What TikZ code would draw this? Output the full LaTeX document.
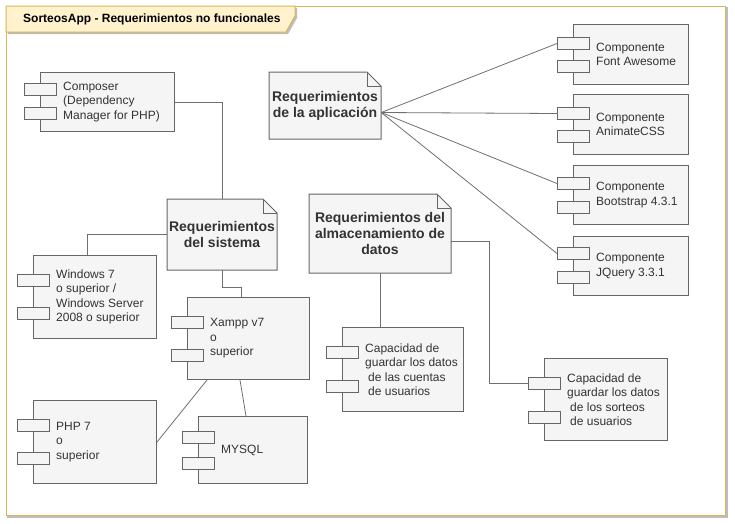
\documentclass[tikz,border=0pt]{standalone}
\usepackage{fontspec}
\setmainfont{Liberation Sans}
\usetikzlibrary{calc}
\definecolor{compfill}{HTML}{F5F5F5}
\definecolor{compline}{HTML}{666666}
\definecolor{txt}{HTML}{333333}
\definecolor{gold}{HTML}{D6B656}
\definecolor{tabfill}{HTML}{FFF2CC}
\definecolor{edgec}{HTML}{707070}
\definecolor{shadowc}{HTML}{BDBDBD}
\tikzset{
  comp/.style={draw=compline, fill=compfill, line width=1pt, inner sep=0pt, anchor=north west},
  port/.style={draw=compline, fill=compfill, line width=1pt, inner sep=0pt, minimum width=32pt, minimum height=12pt, anchor=north west},
  ctext/.style={text=txt, align=left, anchor=west, inner sep=0pt, font=\fontsize{12}{14.5}\selectfont},
  ntext/.style={text=txt, align=center, inner sep=0pt, font=\bfseries\fontsize{14}{16}\selectfont},
  notebody/.style={draw=compline, fill=compfill, line width=1pt},
  conn/.style={draw=edgec, line width=0.8pt},
}
\newcommand\umlcomp[8]{%
  \node[comp, minimum width={(#4-#2)*1pt}, minimum height={(#5-#3)*1pt}] (#1) at (#2,#3) {};
  \node[port] (#1-p1) at ({#2-16},#6) {};
  \node[port] (#1-p2) at ({#2-16},#7) {};
  \node[ctext] (#1-t) at ([xshift=23pt]#1.west) {#8};
}
\newcommand\umlnote[6]{%
  \path[notebody] (#2,#3) -- ({#4-14},#3) -- (#4,{#3+14}) -- (#4,#5) -- (#2,#5) -- cycle;
  \path[draw=compline, line width=1pt] ({#4-14},#3) -- ({#4-14},{#3+14}) -- (#4,{#3+14});
  \node[ntext, minimum width={(#4-#2)*1pt}, minimum height={(#5-#3)*1pt}] (#1) at ({(#2+#4)/2},{(#3+#5)/2}) {#6};
}
\begin{document}
\begin{tikzpicture}[x=1pt,y=-1pt]
\useasboundingbox (0,0) rectangle (735,523);
% frame
\draw[shadowc, line width=1.2pt] (8,8) rectangle (727,517);
\draw[gold, fill=white, line width=1pt] (6,6) rectangle (725,515);
% title tab
\path[fill=shadowc] (8,8) -- (297,8) -- (297,18) -- (288,34) -- (8,34) -- cycle;
\path[draw=gold, fill=tabfill, line width=1pt] (6,6) -- (295,6) -- (295,16) -- (286,32) -- (6,32) -- cycle;
\node[anchor=west, inner sep=0pt, text=black, font=\bfseries\fontsize{12}{14}\selectfont] (title) at (23,19.5) {SorteosApp - Requerimientos no funcionales};

% notes
\umlnote{app}{269}{72}{381}{139}{Requerimientos\\de la aplicación}
\umlnote{sistema}{167}{199}{277}{270}{Requerimientos\\del sistema}
\umlnote{alm}{309}{194}{451}{273}{Requerimientos del\\almacenamiento de\\datos}

% components
\umlcomp{composer}{40}{72}{174}{131}{83}{107}{Composer\\(Dependency\\Manager for PHP)}
\umlcomp{win}{33}{255}{156}{338}{274}{307}{Windows 7\\o superior /\\Windows Server\\2008 o superior}
\umlcomp{xampp}{187}{297}{309}{379}{316}{349}{Xampp v7\\o\\superior}
\umlcomp{php}{33}{400}{156}{483}{419}{452}{PHP 7\\o\\superior}
\umlcomp{mysql}{198}{416}{307}{483}{431}{457}{MYSQL}
\umlcomp{fa}{573}{24}{688}{84}{37}{60}{Componente\\Font Awesome}
\umlcomp{anim}{573}{94}{688}{154}{107}{130}{Componente\\AnimateCSS}
\umlcomp{boot}{573}{165}{688}{224}{177}{201}{Componente\\Bootstrap 4.3.1}
\umlcomp{jq}{573}{236}{688}{295}{247}{271}{Componente\\JQuery 3.3.1}
\umlcomp{cuentas}{342}{327}{463}{411}{346}{380}{Capacidad de\\guardar los datos\\\hspace*{3pt}de las cuentas\\\hspace*{3pt}de usuarios}
\umlcomp{sorteos}{544}{358}{667}{440}{377}{411}{Capacidad de\\guardar los datos\\\hspace*{3pt}de los sorteos\\\hspace*{3pt}de usuarios}

% connectors
\draw[conn] (composer.east) -| (sistema.north);
\draw[conn] (sistema.west) -| ([xshift=54pt]win.north west);
\draw[conn] (sistema.south) -- ++(0,17) -| ([xshift=54pt]xampp.north west);
\draw[conn] ([xshift=53pt]xampp.south west) -- ([xshift=48pt]mysql.north west);
\draw[conn] ([xshift=20pt]xampp.south west) -- (php.east);
\draw[conn] ([yshift=-7pt]app.east) -- (fa-p1.west);
\draw[conn] ([yshift=-7pt]app.east) -- (anim-p1.west);
\draw[conn] ([yshift=-7pt]app.east) -- (boot-p1.west);
\draw[conn] ([yshift=-7pt]app.east) -- (jq-p1.west);
\draw[conn] ([yshift=-8pt]alm.east) -| ([xshift=-39pt]sorteos-p1.west) -- (sorteos-p1.west);
\draw[conn] (alm.south) -- (alm.south |- cuentas.north);
\end{tikzpicture}
\end{document}
